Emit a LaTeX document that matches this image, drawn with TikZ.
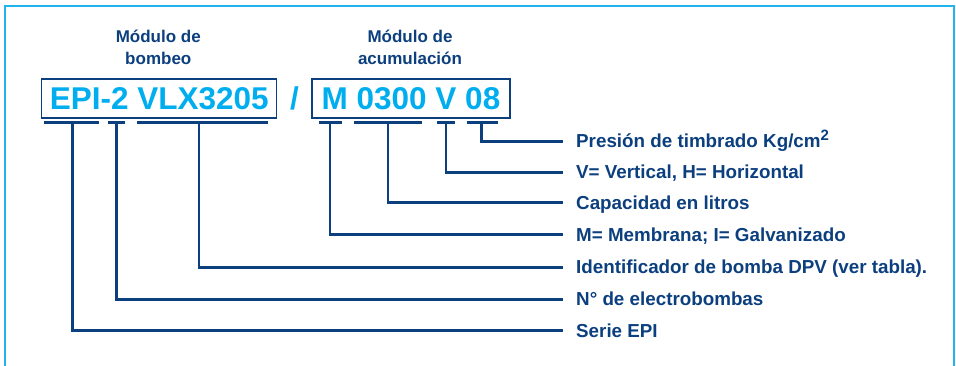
\documentclass[tikz,border=0pt]{standalone}
\usepackage{fontspec}
\setmainfont{Liberation Sans}
\definecolor{navy}{HTML}{0C3F7E}
\definecolor{cyantext}{HTML}{00ADEE}
\definecolor{framecol}{HTML}{20B4EE}
\begin{document}
\begin{tikzpicture}[x=1pt,y=-1pt,
  framestyle/.style={draw=framecol,line width=2pt},
  codebox/.style={draw=navy,line width=1.4pt,inner sep=0pt,text=cyantext,
     font=\bfseries\fontsize{31.5}{31.5}\selectfont},
  slashtxt/.style={text=cyantext,inner sep=0pt,font=\bfseries\fontsize{31.5}{31.5}\selectfont},
  headtxt/.style={text=navy,inner sep=0pt,font=\bfseries\fontsize{17}{17}\selectfont},
  labtxt/.style={text=navy,inner sep=0pt,anchor=base west,font=\bfseries\fontsize{18.8}{18.8}\selectfont},
  bar/.style={draw=navy,line width=2.8pt},
  conn/.style={draw=navy,line width=2.8pt}]
\useasboundingbox (0,0) rectangle (956,366);
% frame
\draw[framestyle] (5,366) -- (5,6) -- (954,6) -- (954,366);
% headers
\node[headtxt,anchor=base] (h1a) at (158.3,42.3) {Módulo de};
\node[headtxt,anchor=base] (h1b) at (158.3,65) {bombeo};
\node[headtxt,anchor=base] (h2a) at (410,42.3) {Módulo de};
\node[headtxt,anchor=base] (h2b) at (410,65) {acumulación};
% code boxes
\node[codebox,minimum width=235pt,minimum height=39pt] (box1) at (159.2,98.5) {EPI-2 VLX3205};
\node[slashtxt,anchor=base] (slash) at (294.5,109.8) {/};
\node[codebox,minimum width=198pt,minimum height=39pt] (box2) at (411,98.5) {M 0300 V 08};
% bars under the code
\draw[bar] (44,122.3) -- (99,122.3);
\draw[bar] (108,122.3) -- (125,122.3);
\draw[bar] (137,122.3) -- (268,122.3);
\draw[bar] (319,122.3) -- (342,122.3);
\draw[bar] (354,122.3) -- (421.7,122.3);
\draw[bar] (437,122.3) -- (455,122.3);
\draw[bar] (467,122.3) -- (498,122.3);
% bar connection points
\coordinate (s1) at (72.3,122.3);
\coordinate (s2) at (116.3,122.3);
\coordinate (s3) at (199,122.3);
\coordinate (s4) at (330,122.3);
\coordinate (s5) at (388,122.3);
\coordinate (s6) at (446,122.3);
\coordinate (s7) at (481.7,122.3);
% line ends near labels
\coordinate (e1) at (563,330.7);
\coordinate (e2) at (563,299.3);
\coordinate (e3) at (563,267.3);
\coordinate (e4) at (563,234.7);
\coordinate (e5) at (563,202.7);
\coordinate (e6) at (563,172.3);
\coordinate (e7) at (563,141.7);
% labels
\node[labtxt] (l7) at (576,147.7) {Presión de timbrado Kg/cm\raisebox{7pt}{\fontsize{15}{15}\selectfont 2}};
\node[labtxt] (l6) at (576,178.8) {V= Vertical, H= Horizontal};
\node[labtxt] (l5) at (576,209.2) {Capacidad en litros};
\node[labtxt] (l4) at (576,241.2) {M= Membrana; I= Galvanizado};
\node[labtxt] (l3) at (576,273.8) {Identificador de bomba DPV (ver tabla).};
\node[labtxt] (l2) at (576,305.8) {N° de electrobombas};
\node[labtxt] (l1) at (576,337.5) {Serie EPI};
% connectors
\draw[conn] (s1) |- (e1);
\draw[conn] (s2) |- (e2);
\draw[conn] (s3) |- (e3);
\draw[conn] (s4) |- (e4);
\draw[conn] (s5) |- (e5);
\draw[conn] (s6) |- (e6);
\draw[conn] (s7) |- (e7);
\end{tikzpicture}
\end{document}
